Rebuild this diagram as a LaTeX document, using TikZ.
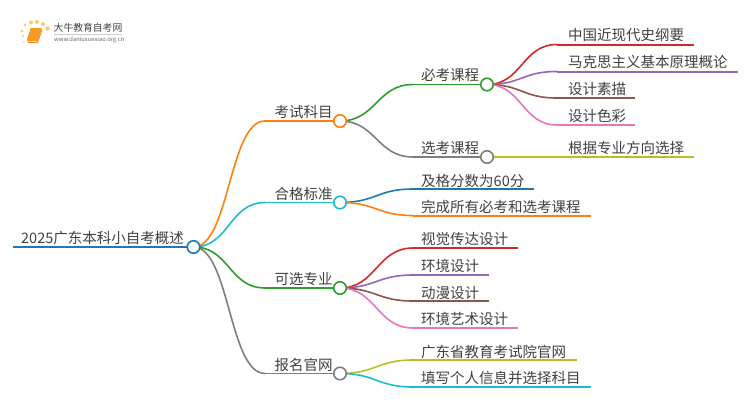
\documentclass[tikz,border=0pt]{standalone}
\usepackage{fontspec}
\setmainfont{Noto Sans CJK SC}
\definecolor{cOrange}{HTML}{FF7F0E}
\definecolor{cCyan}{HTML}{17BECF}
\definecolor{cGreen}{HTML}{2CA02C}
\definecolor{cGray}{HTML}{7F7F7F}
\definecolor{cRed}{HTML}{D62728}
\definecolor{cPurple}{HTML}{9467BD}
\definecolor{cBrown}{HTML}{8C564B}
\definecolor{cPink}{HTML}{E377C2}
\definecolor{cOlive}{HTML}{BCBD22}
\definecolor{cBlue}{HTML}{1F77B4}
\definecolor{cText}{HTML}{404040}
\definecolor{cSun}{HTML}{FBCB6C}
\definecolor{cBook}{HTML}{F59A23}
\tikzset{
  x=1pt,y=-1pt,
  lab/.style={anchor=base west,inner sep=0pt,text=cText,font=\fontsize{14.5}{15}\selectfont},
  dotnode/.style={circle,draw=#1,line width=1.6pt,fill=white,minimum size=12.5pt,inner sep=0pt},
  wire/.style={draw=#1,line width=1.6pt},
  leaf/.style={draw=#1,line width=2pt}
}
\newcommand{\curve}[4]{% colour, from, via coordinate, to
  \draw[wire=#1] (#2.center) .. controls +(#4,0) and +(-#4,0) .. (#3);}
\begin{document}
\begin{tikzpicture}
\useasboundingbox (0,0) rectangle (750,410);
% coordinates
\coordinate (rs) at (13,247);
\coordinate (ka) at (265,121);
\coordinate (hg) at (265,202.5);
\coordinate (kx) at (265,288);
\coordinate (bm) at (265,373.5);
\coordinate (bk) at (413,84.5);
\coordinate (xk) at (413,157);
\coordinate (l1s) at (557,44.5);\coordinate (l1e) at (694,44.5);
\coordinate (l2s) at (557,71.5);\coordinate (l2e) at (738,71.5);
\coordinate (l3s) at (557,98);\coordinate (l3e) at (635,98);
\coordinate (l4s) at (557,125);\coordinate (l4e) at (635,125);
\coordinate (l5s) at (557,157);\coordinate (l5e) at (694,157);
\coordinate (p1s) at (413,189);\coordinate (p1e) at (534,189);
\coordinate (p2s) at (413,215.5);\coordinate (p2e) at (591,215.5);
\coordinate (m1s) at (413,248);\coordinate (m1e) at (518,248);
\coordinate (m2s) at (413,275);\coordinate (m2e) at (489,275);
\coordinate (m3s) at (413,301);\coordinate (m3e) at (489,301);
\coordinate (m4s) at (413,328);\coordinate (m4e) at (518,328);
\coordinate (w1s) at (413,360);\coordinate (w1e) at (577,360);
\coordinate (w2s) at (413,387);\coordinate (w2e) at (591,387);
% hub positions
\coordinate (Rc) at (193.5,247);
\coordinate (Ac) at (340,121);
\coordinate (Bc) at (340,202.5);
\coordinate (Cc) at (340,288);
\coordinate (Dc) at (340,373.5);
\coordinate (Ec) at (487,84.5);
\coordinate (Fc) at (487,157);
% horizontal runs
\draw[line width=2.2pt,cBlue] (rs) -- (Rc);
\draw[wire=cOrange] (ka) -- (Ac);
\draw[wire=cCyan] (hg) -- (Bc);
\draw[wire=cGreen] (kx) -- (Cc);
\draw[wire=cGray] (bm) -- (Dc);
\draw[wire=cGreen] (bk) -- (Ec);
\draw[wire=cGray] (xk) -- (Fc);
% curves level 1
\curve{cOrange}{Rc}{ka}{36}
\curve{cCyan}{Rc}{hg}{36}
\curve{cGreen}{Rc}{kx}{36}
\curve{cGray}{Rc}{bm}{36}
% level 2
\curve{cGreen}{Ac}{bk}{36}
\curve{cGray}{Ac}{xk}{36}
\curve{cBlue}{Bc}{p1s}{36}
\curve{cOrange}{Bc}{p2s}{36}
\curve{cRed}{Cc}{m1s}{36}
\curve{cPurple}{Cc}{m2s}{36}
\curve{cBrown}{Cc}{m3s}{36}
\curve{cPink}{Cc}{m4s}{36}
\curve{cOlive}{Dc}{w1s}{36}
\curve{cCyan}{Dc}{w2s}{36}
\curve{cRed}{Ec}{l1s}{35}
\curve{cPurple}{Ec}{l2s}{35}
\curve{cBrown}{Ec}{l3s}{35}
\curve{cPink}{Ec}{l4s}{35}
\draw[wire=cOlive] (Fc) -- (l5s);
% leaf rules
\foreach \a/\b/\c in {l1s/l1e/cRed,l2s/l2e/cPurple,l3s/l3e/cBrown,l4s/l4e/cPink,l5s/l5e/cOlive,
  p1s/p1e/cBlue,p2s/p2e/cOrange,m1s/m1e/cRed,m2s/m2e/cPurple,m3s/m3e/cBrown,m4s/m4e/cPink,
  w1s/w1e/cOlive,w2s/w2e/cCyan}
  \draw[leaf=\c] (\a) -- (\b);
% hubs
\node[dotnode=cBlue] (R) at (Rc) {};
\node[dotnode=cOrange] (A) at (Ac) {};
\node[dotnode=cCyan] (B) at (Bc) {};
\node[dotnode=cGreen] (C) at (Cc) {};
\node[dotnode=cGray] (D) at (Dc) {};
\node[dotnode=cGreen] (E) at (Ec) {};
\node[dotnode=cGray] (F) at (Fc) {};
% labels
\node[lab] (tR) at (21,243.5) {2025广东本科小自考概述};
\node[lab] (tA) at (274.5,117) {考试科目};
\node[lab] (tB) at (274.5,199) {合格标准};
\node[lab] (tC) at (274.5,284) {可选专业};
\node[lab] (tD) at (274.5,370) {报名官网};
\node[lab] (tE) at (421,80.5) {必考课程};
\node[lab] (tF) at (421,153) {选考课程};
\node[lab] (t1) at (568,40.5) {中国近现代史纲要};
\node[lab] (t2) at (568,67.5) {马克思主义基本原理概论};
\node[lab] (t3) at (568,94.5) {设计素描};
\node[lab] (t4) at (568,121) {设计色彩};
\node[lab] (t5) at (568,153) {根据专业方向选择};
\node[lab] (p1) at (421,186) {及格分数为60分};
\node[lab] (p2) at (421,212) {完成所有必考和选考课程};
\node[lab] (m1) at (421,244) {视觉传达设计};
\node[lab] (m2) at (421,271) {环境设计};
\node[lab] (m3) at (421,298) {动漫设计};
\node[lab] (m4) at (421,324) {环境艺术设计};
\node[lab] (w1) at (421,357) {广东省教育考试院官网};
\node[lab] (w2) at (421,383) {填写个人信息并选择科目};
% logo
\fill[cSun] (24,42) circle (1) (23,36) circle (1.2) (22,31) circle (1.5) (25,25) circle (1.7) (31,22.5) circle (2) (37,22) circle (2) (43,24) circle (2) (47.5,28.5) circle (2.3);
\fill[cBook] (30.5,28) -- (42,28) -- (37.5,41) -- (27.5,41.5) -- (27,39.5) -- cycle;
\draw[cBook!85!red,line width=.9pt] (27.5,42.3) -- (37.5,42.3) -- (42,30);
\node[anchor=base west,inner sep=0pt,text=black!75,font=\fontsize{9.8}{10}\selectfont] (lt) at (53.5,31) {大牛教育自考网};
\draw[black!20,line width=.5pt] (54,34) -- (122,34);
\node[anchor=base west,inner sep=0pt,text=black!60,font=\fontsize{5.8}{6}\selectfont] (lu) at (54,41.5) {www.daniuxuexiao.org.cn};
\end{tikzpicture}
\end{document}
